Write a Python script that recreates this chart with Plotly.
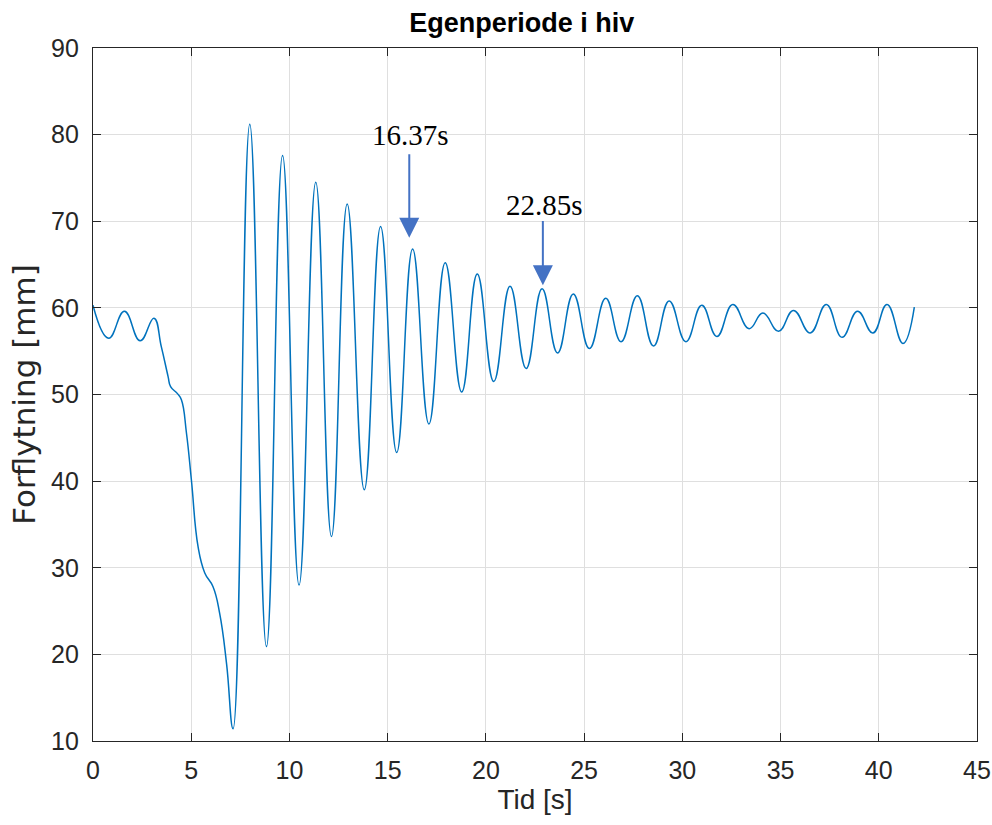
import plotly.graph_objects as go

# Key points (time [s], displacement [mm])
tid = [0.0, 0.8, 1.6, 2.4, 3.1, 3.48, 3.82, 3.95, 4.3, 4.5, 4.76, 5.01, 5.35, 5.69, 6.11, 6.45, 6.8, 7.13,
       7.98, 8.83, 9.65, 10.49, 11.34, 12.14, 12.94, 13.81, 14.64, 15.46, 16.27, 17.1, 17.93, 18.77,
       19.56, 20.4, 21.23, 22.05, 22.86, 23.65, 24.45, 25.27, 26.1, 26.88, 27.71, 28.53, 29.33, 30.18,
       30.99, 31.76, 32.57, 33.4, 34.1, 34.9, 35.66, 36.51, 37.33, 38.13, 38.92, 39.7, 40.42, 41.23, 41.81]
forflytning = [60.3, 56.5, 59.6, 56.2, 58.8, 55.5, 52.1, 50.9, 50.1, 49.4, 45.5, 40.1, 32.4, 29.4, 27.8, 24.7, 18.9, 11.4,
               81.2, 20.9, 77.6, 28.0, 74.5, 33.6, 72.0, 39.0, 69.4, 43.3, 66.8, 46.6, 65.2, 50.3,
               63.9, 51.5, 62.5, 53.0, 62.2, 54.8, 61.6, 55.3, 61.1, 56.1, 61.4, 55.6, 60.8, 56.1,
               60.3, 56.7, 60.4, 57.6, 59.4, 57.3, 59.7, 57.1, 60.4, 56.6, 59.6, 57.1, 60.4, 55.9, 60.1]

x_ticks = [0, 5, 10, 15, 20, 25, 30, 35, 40, 45]
y_ticks = [10, 20, 30, 40, 50, 60, 70, 80, 90]

# Annotation data: label, arrow x, arrow tip y, arrow tail y, text x, text y
ann_labels = ["16.37s", "22.85s"]
ann_x = [16.1, 22.9]
ann_tip = [68.1, 62.6]
ann_tail = [77.9, 70.2]
ann_text_x = [16.17, 23.0]
ann_text_y = [79.9, 71.9]

fig = go.Figure()
fig.add_trace(go.Scatter(
    x=tid, y=forflytning, mode="lines",
    line=dict(color="#0072BD", width=1.5, shape="spline", smoothing=1.3),
    showlegend=False,
))

for lab, x, tip, tail, tx, ty in zip(ann_labels, ann_x, ann_tip, ann_tail, ann_text_x, ann_text_y):
    fig.add_annotation(x=x, y=tip, ax=x, ay=tail, xref="x", yref="y", axref="x", ayref="y",
                       text="", showarrow=True, arrowhead=2, arrowsize=2.0, arrowwidth=2,
                       arrowcolor="#4472C4")
    fig.add_annotation(x=tx, y=ty, xref="x", yref="y", text=lab, showarrow=False,
                       font=dict(family="Liberation Serif, Times New Roman, serif", size=29, color="black"))

axis_common = dict(
    showgrid=True, gridcolor="#DFDFDF", gridwidth=1,
    showline=True, linecolor="#262626", linewidth=1.2, mirror="ticks",
    ticks="inside", ticklen=8, tickcolor="#262626", tickwidth=1,
    zeroline=False, automargin=False,
    tickfont=dict(family="Liberation Sans, Arial, sans-serif", size=25, color="#262626"),
)

fig.update_xaxes(range=[0, 45], tickvals=x_ticks, ticktext=[str(v) for v in x_ticks],
                 title=dict(text="Tid [s]", font=dict(family="Liberation Sans, Arial, sans-serif", size=28, color="#262626"),
                            standoff=6),
                 ticklabelstandoff=7, **axis_common)
fig.update_yaxes(range=[10, 90], tickvals=y_ticks, ticktext=[str(v) for v in y_ticks],
                 title=dict(text="Forflytning [mm]", font=dict(family="DejaVu Sans, sans-serif", size=31, color="#262626"),
                            standoff=6),
                 ticklabelstandoff=8, **axis_common)

fig.update_layout(
    width=992, height=825,
    margin=dict(l=93, r=15, t=48, b=84, autoexpand=False),
    plot_bgcolor="white", paper_bgcolor="white",
    title=dict(text="<b>Egenperiode i hiv</b>", x=0.526, xanchor="center", y=0.973, yanchor="middle",
               font=dict(family="Liberation Sans, Arial, sans-serif", size=27, color="black")),
)

fig.write_html("out.html", config={"displayModeBar": False},
               post_script="document.body.style.margin='0';document.body.style.overflow='hidden';")
